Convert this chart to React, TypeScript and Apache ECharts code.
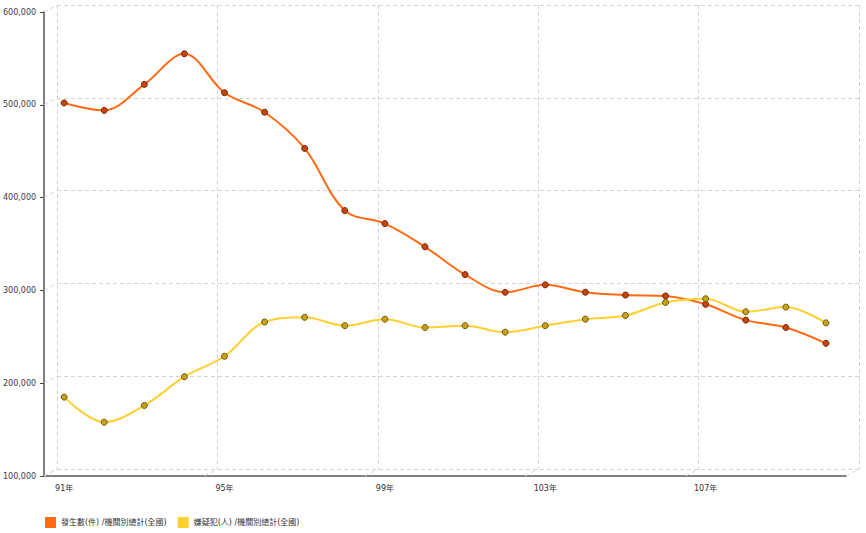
import React, { useEffect, useRef } from "react";
import * as echarts from "echarts";

const years = [
  "91年", "92年", "93年", "94年", "95年", "96年", "97年", "98年", "99年", "100年",
  "101年", "102年", "103年", "104年", "105年", "106年", "107年", "108年", "109年", "110年",
];
const incidents = [
  502000, 494000, 522000, 555000, 513000, 492000, 453000, 386000, 372000, 347000,
  317000, 298000, 306000, 298000, 295000, 294000, 285000, 268000, 260000, 243000,
];
const suspects = [
  185000, 158000, 176000, 207000, 229000, 266000, 271000, 262000, 269000, 260000,
  262000, 255000, 262000, 269000, 273000, 287000, 291000, 277000, 282000, 265000,
];
const seriesNames = ["發生數(件) /機關別總計(全國)", "嫌疑犯(人) /機關別總計(全國)"];
const yTicks = [100000, 200000, 300000, 400000, 500000, 600000];
const yMin = 100000;
const yMax = 600000;
const yStep = 100000;
const xStep = 4;

const FONT = "'DejaVu Sans', 'Noto Sans CJK TC', sans-serif";
const DX = 13;
const DY = -7;

export default function App() {
  const ref = useRef<HTMLDivElement>(null);
  useEffect(() => {
    document.body.style.margin = "0";
    const chart = echarts.init(ref.current!, null, { renderer: "svg" });
    const boundaries: number[] = [];
    for (let k = 0; k <= years.length; k += xStep) boundaries.push(k);

    const option: any = {
      animation: false,
      backgroundColor: "#ffffff",
      textStyle: { fontFamily: FONT },
      grid: [
        { left: 44, right: 20, top: 12, bottom: 57 },
        { left: 44 + DX, right: 20 - DX, top: 12 + DY, bottom: 57 - DY },
      ],
      xAxis: [
        {
          type: "category",
          gridIndex: 0,
          data: years,
          boundaryGap: true,
          axisLine: { lineStyle: { color: "#808080", width: 2 } },
          axisTick: { alignWithLabel: true, interval: xStep - 1, length: 4, lineStyle: { color: "#444" } },
          axisLabel: { interval: xStep - 1, fontSize: 8, color: "#333", margin: 8, fontFamily: FONT },
          splitLine: { show: false },
        },
        {
          type: "category",
          gridIndex: 1,
          data: years,
          boundaryGap: true,
          axisLine: { show: false },
          axisTick: { show: false },
          axisLabel: { show: false },
          splitLine: {
            show: true,
            interval: xStep - 1,
            lineStyle: { color: "#d4d4d4", type: [4, 3], width: 1 },
          },
        },
      ],
      yAxis: [
        {
          type: "value",
          gridIndex: 0,
          min: yMin,
          max: yMax,
          interval: yStep,
          axisLine: { show: true, lineStyle: { color: "#808080", width: 2 } },
          axisTick: { show: true, length: 4, lineStyle: { color: "#444" } },
          axisLabel: {
            fontSize: 8,
            color: "#3a3a4a",
            margin: 8,
            fontFamily: FONT,
            formatter: (v: number) => v.toLocaleString("en-US"),
          },
          splitLine: { show: false },
        },
        {
          type: "value",
          gridIndex: 1,
          min: yMin,
          max: yMax,
          interval: yStep,
          axisLine: { show: false },
          axisTick: { show: false },
          axisLabel: { show: false },
          splitLine: {
            show: true,
            showMinLine: true,
            showMaxLine: true,
            lineStyle: { color: "#d4d4d4", type: [4, 3], width: 1 },
          },
        },
      ],
      legend: {
        left: 45,
        top: 517,
        padding: 0,
        itemWidth: 11,
        itemHeight: 11,
        itemGap: 11,
        icon: "rect",
        textStyle: { fontSize: 8, color: "#333", fontFamily: FONT },
        data: [
          { name: seriesNames[0], itemStyle: { color: "#ff6a13", borderWidth: 0 } },
          { name: seriesNames[1], itemStyle: { color: "#ffd030", borderWidth: 0 } },
        ],
      },
      series: [
        {
          type: "custom",
          xAxisIndex: 0,
          yAxisIndex: 0,
          silent: true,
          z: 1,
          data: [[0, yMin]],
          renderItem: (params: any, api: any) => {
            const band = api.size([1, 0])[0];
            const c0 = api.coord([0, yMin]);
            const left = c0[0] - band / 2;
            const bottom = c0[1];
            const children: any[] = [];
            yTicks.forEach((v) => {
              const p = api.coord([0, v]);
              children.push({
                type: "line",
                shape: { x1: left, y1: p[1], x2: left + DX, y2: p[1] + DY },
                style: { stroke: "#d4d4d4", lineWidth: 1, lineDash: [4, 3] },
              });
            });
            boundaries.forEach((k) => {
              const x = left + k * band;
              children.push({
                type: "line",
                shape: { x1: x, y1: bottom, x2: x + DX, y2: bottom + DY },
                style: { stroke: "#d4d4d4", lineWidth: 1, lineDash: [4, 3] },
              });
            });
            return { type: "group", children };
          },
        },
        {
          name: seriesNames[0],
          type: "line",
          xAxisIndex: 0,
          yAxisIndex: 0,
          data: incidents,
          smooth: 0.35,
          symbol: "circle",
          symbolSize: 6,
          z: 3,
          lineStyle: { color: "#ff6a13", width: 2 },
          itemStyle: { color: "#c9440c", borderColor: "#6a2408", borderWidth: 1 },
        },
        {
          name: seriesNames[1],
          type: "line",
          xAxisIndex: 0,
          yAxisIndex: 0,
          data: suspects,
          smooth: 0.35,
          symbol: "circle",
          symbolSize: 6,
          z: 3,
          lineStyle: { color: "#ffd030", width: 2 },
          itemStyle: { color: "#c8a216", borderColor: "#6a5610", borderWidth: 1 },
        },
      ],
    };
    chart.setOption(option);
    return () => chart.dispose();
  }, []);
  return (
    <div
      ref={ref}
      style={{ position: "fixed", left: 0, top: 0, width: 866, height: 533 }}
    />
  );
}
